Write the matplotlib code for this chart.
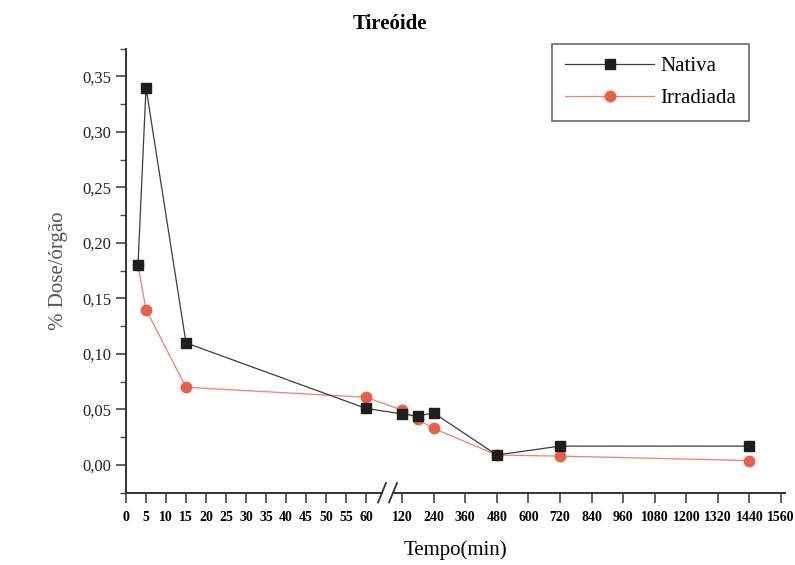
import numpy as np
import matplotlib
matplotlib.use("Agg")
import matplotlib.pyplot as plt

plt.rcParams['font.family'] = ['Liberation Serif', 'DejaVu Serif']

tempo = [3, 5, 15, 60, 120, 180, 240, 480, 720, 1440]
nativa = [0.18, 0.34, 0.11, 0.051, 0.046, 0.044, 0.047, 0.009, 0.017, 0.017]
irradiada = [0.18, 0.14, 0.07, 0.061, 0.0495, 0.041, 0.033, 0.009, 0.008, 0.004]

xticks = [0, 5, 10, 15, 20, 25, 30, 35, 40, 45, 50, 55, 60,
          120, 240, 360, 480, 600, 720, 840, 960, 1080, 1200, 1320, 1440, 1560]
yticks = [0.00, 0.05, 0.10, 0.15, 0.20, 0.25, 0.30, 0.35]

# broken x scale: 0-64 linear, gap, 86-1575 compressed
XP = np.array([-1000.0, 0.0, 64.0, 86.0, 1575.0, 10000.0])
FP = np.array([-4000.0, 0.0, 256.0, 267.0, 659.0, 659.0 + (10000 - 1575) * 0.2632])


def fwd(x):
    return np.interp(x, XP, FP)


def inv(y):
    return np.interp(y, FP, XP)


fig = plt.figure(figsize=(7.95, 5.65), dpi=100)
ax = fig.add_axes([126 / 795, 1 - 492.75 / 565, 659 / 795, (492.75 - 48.7) / 565])
ax.set_xscale('function', functions=(fwd, inv))

ax.plot(tempo, nativa, color='#3a3a4a', lw=0.9, marker='s', ms=7,
        mfc='#1e1e1e', mec='#1e1e1e', label='Nativa', zorder=3)
ax.plot(tempo, irradiada, color='#f08070', lw=0.9, marker='o', ms=7.5,
        mfc='#e8604c', mec='#e8604c', label='Irradiada', zorder=2)

ax.set_xlim(0, 1575)
ax.set_ylim(-0.025, 0.375)
ax.set_xticks(xticks)
ax.set_xticklabels([str(t) for t in xticks], fontsize=10, fontweight='bold')
ax.set_yticks(yticks)
ax.set_yticklabels([f"{v:.2f}".replace('.', ',') for v in yticks], fontsize=12, color='#222222')
ax.set_yticks(np.arange(-0.025, 0.38, 0.05), minor=True)
ax.tick_params(axis='both', which='major', direction='out', length=7, width=1.2, color='#444444')
ax.tick_params(axis='y', which='minor', direction='out', length=4, width=1.0, color='#444444')
ax.tick_params(axis='x', which='minor', bottom=False)
ax.tick_params(axis='x', which='major', pad=6)

for s in ['top', 'right']:
    ax.spines[s].set_visible(False)
ax.spines['left'].set_linewidth(1.4)
ax.spines['left'].set_color('#333333')
ax.spines['bottom'].set_bounds(0, 64)
ax.spines['bottom'].set_linewidth(1.4)
ax.spines['bottom'].set_color('#333333')
tr = ax.get_xaxis_transform()
ax.plot([86, 1575], [0, 0], transform=tr, color='#333333', lw=1.4, clip_on=False)
# break marks
for xc in (64, 86):
    xpix = fwd(xc)
    x0 = inv(xpix - 4)
    x1 = inv(xpix + 4)
    ax.plot([x0, x1], [-0.022, 0.022], transform=tr, color='#333333', lw=1.3, clip_on=False)

ax.set_xlabel('Tempo(min)', fontsize=15, labelpad=12)
ax.set_ylabel('% Dose/órgão', fontsize=15, color='#555555', labelpad=10)
fig.text(390 / 795, 1 - 24 / 565, 'Tireóide', fontsize=15, fontweight='bold',
         ha='center', va='center')

leg = ax.legend(loc='upper right', fontsize=15, frameon=True, fancybox=False,
                edgecolor='#444444', handlelength=4.3, borderpad=0.6, labelspacing=0.6,
                handletextpad=0.3, borderaxespad=0)
leg.set_bbox_to_anchor((749 / 795, 1 - 44 / 565), transform=fig.transFigure)
leg.get_frame().set_linewidth(1.2)

fig.savefig('out.png', dpi=100, facecolor='white')
